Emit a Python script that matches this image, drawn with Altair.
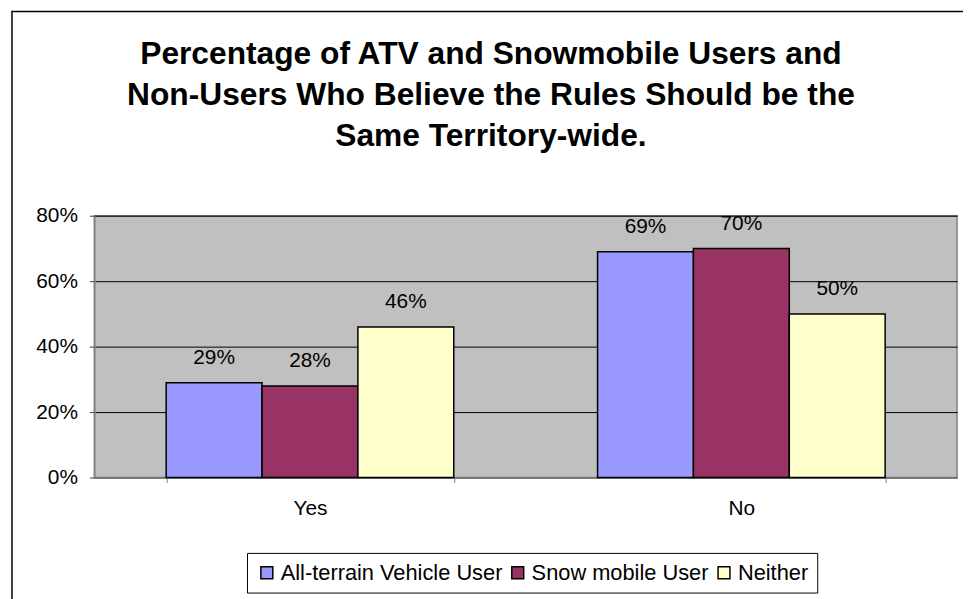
import altair as alt
import pandas as pd

answers = ["Yes", "No"]
groups = ["All-terrain Vehicle User", "Snow mobile User", "Neither"]
atv = [29, 69]
snow = [28, 70]
neither = [46, 50]
colors = ["#9999FF", "#993366", "#FFFFCC"]
y_ticks = [0, 20, 40, 60, 80]
title_lines = [
    "Percentage of ATV and Snowmobile Users and",
    "Non-Users Who Believe the Rules Should be the",
    "Same Territory-wide.",
]

rows = []
for g, vals in zip(groups, [atv, snow, neither]):
    for a, v in zip(answers, vals):
        rows.append({"answer": a, "group": g, "value": v, "label": f"{v}%"})
df = pd.DataFrame(rows)

FONT = "Liberation Sans"

x = alt.X(
    "answer:N", sort=answers, title=None,
    scale=alt.Scale(paddingInner=1 / 3, paddingOuter=1 / 6),
    axis=alt.Axis(labelAngle=0, tickBand="extent", tickSize=5, tickColor="#808080",
                  domainColor="#808080", domainWidth=1.5, labelPadding=15,
                  labelFontSize=21, labelFont=FONT, labelColor="black", grid=False),
)
xo = alt.XOffset("group:N", sort=groups, scale=alt.Scale(paddingInner=0, paddingOuter=0))
y = alt.Y(
    "value:Q", title=None,
    scale=alt.Scale(domain=[0, 80], nice=False),
    axis=alt.Axis(values=y_ticks, labelExpr="datum.value + '%'", tickSize=5,
                  tickColor="#404040", domainColor="#808080", domainWidth=1.5,
                  labelPadding=12, labelFontSize=21, labelFont=FONT, labelColor="black",
                  grid=True, gridColor="black", gridWidth=1),
)

bars = alt.Chart(df).mark_bar(stroke="black", strokeWidth=1.5).encode(
    x=x, xOffset=xo, y=y,
    color=alt.Color(
        "group:N", sort=groups,
        scale=alt.Scale(domain=groups, range=colors),
        legend=alt.Legend(
            title=None, orient="none", legendX=154, legendY=340, direction="horizontal",
            strokeColor="black", fillColor="white", padding=9, cornerRadius=0,
            symbolType="square", symbolSize=144, symbolStrokeColor="black",
            symbolStrokeWidth=1.5, symbolOpacity=1, labelFontSize=22, labelFont=FONT,
            labelColor="black", labelOffset=3, columnPadding=4, labelLimit=500,
        ),
    ),
)

labels = alt.Chart(df).mark_text(
    dy=-19, baseline="alphabetic", fontSize=21, font=FONT, color="black"
).encode(x=x, xOffset=xo, y=y, text="label:N")

one = pd.DataFrame({"k": [0]})

frame = alt.Chart(one).mark_rect(
    filled=False, stroke="black", strokeWidth=1.5
).encode(x=alt.value(-83), y=alt.value(-206), x2=alt.value(1000), y2=alt.value(1000))

title = alt.Chart(one).mark_text(
    fontSize=32, font=FONT, fontWeight="bold", align="center", baseline="alphabetic",
    lineHeight=41.5, color="black",
).encode(x=alt.value(400), y=alt.value(-153), text=alt.value(title_lines))

chart = alt.layer(frame, bars, labels, title).properties(
    width=870, height=264,
    padding={"left": 87, "top": 207, "right": 6, "bottom": 120},
    autosize=alt.AutoSizeParams(type="none"),
    background="white",
).configure_view(
    fill="#C0C0C0", stroke="#808080", strokeWidth=1.5
)

chart.save("out.html", embed_options={"renderer": "svg", "actions": False})
